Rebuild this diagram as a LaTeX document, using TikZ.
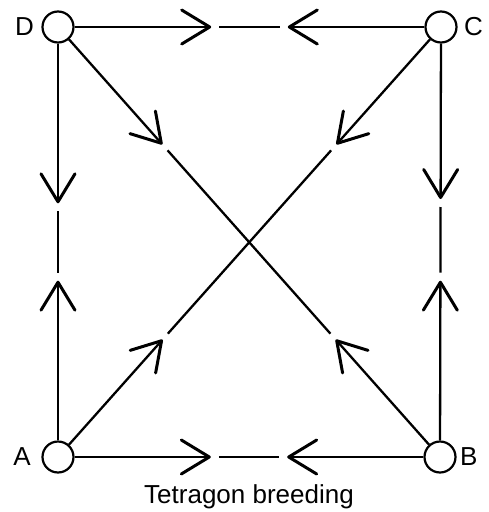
\documentclass[tikz,border=0pt]{standalone}
\usepackage{fontspec}
\setmainfont{Liberation Sans}
\usetikzlibrary{arrows.meta,calc}
\begin{document}
\begin{tikzpicture}[x=1pt,y=-1pt,
  station/.style={circle,draw,line width=2.2pt,minimum size=31pt,inner sep=0pt},
  lab/.style={font=\fontsize{26}{31}\selectfont,inner sep=0pt},
  barb/.style={line width=2.3pt,-{Straight Barb[length=28pt,width=34pt,line width=3pt,round]}},
  midseg/.style={line width=2.3pt,shorten <=8pt,shorten >=8pt}]
\useasboundingbox (0,0) rectangle (488,512);
\node[station] (D) at (58,27) {};
\node[station] (C) at (441,27) {};
\node[station] (A) at (58,457) {};
\node[station] (B) at (440,457) {};
\node[lab,anchor=east] (lD) at (34,27) {D};
\node[lab,anchor=west] (lC) at (464,27) {C};
\node[lab,anchor=east] (lA) at (31,457) {A};
\node[lab,anchor=west] (lB) at (460,457) {B};
\node[lab,anchor=base] (cap) at (249,503) {Tetragon breeding};
% top D-C
\coordinate (dc1) at ($(D)!0.4!(C)$);
\coordinate (dc2) at ($(D)!0.6!(C)$);
\draw[barb] (D) -- (dc1);
\draw[midseg] (dc1) -- (dc2);
\draw[barb] (C) -- (dc2);
% bottom A-B
\coordinate (ab1) at ($(A)!0.4!(B)$);
\coordinate (ab2) at ($(A)!0.6!(B)$);
\draw[barb] (A) -- (ab1);
\draw[midseg] (ab1) -- (ab2);
\draw[barb] (B) -- (ab2);
% left D-A
\coordinate (da1) at ($(D)!0.41!(A)$);
\coordinate (da2) at ($(D)!0.59!(A)$);
\draw[barb] (D) -- (da1);
\draw[midseg] (da1) -- (da2);
\draw[barb] (A) -- (da2);
% right C-B
\coordinate (cb1) at ($(C)!0.40!(B)$);
\coordinate (cb2) at ($(C)!0.59!(B)$);
\draw[barb] (C) -- (cb1);
\draw[midseg] (cb1) -- (cb2);
\draw[barb] (B) -- (cb2);
% diagonal D-B
\coordinate (db1) at ($(D)!0.273!(B)$);
\coordinate (db2) at ($(D)!0.727!(B)$);
\draw[barb] (D) -- (db1);
\draw[midseg] (db1) -- (db2);
\draw[barb] (B) -- (db2);
% diagonal C-A
\coordinate (ca1) at ($(C)!0.273!(A)$);
\coordinate (ca2) at ($(C)!0.727!(A)$);
\draw[barb] (C) -- (ca1);
\draw[midseg] (ca1) -- (ca2);
\draw[barb] (A) -- (ca2);
\end{tikzpicture}
\end{document}
